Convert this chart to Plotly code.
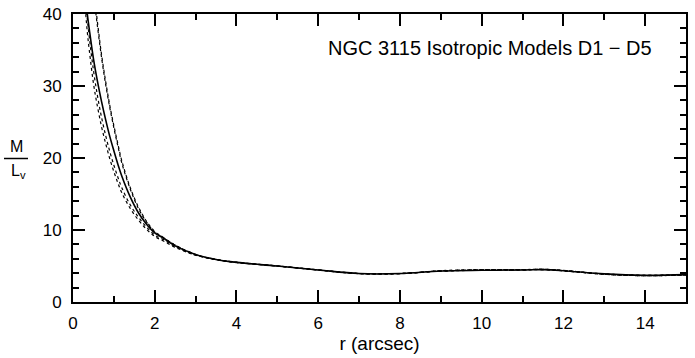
import plotly.graph_objects as go

r = [0.3, 0.35, 0.4, 0.5, 0.6, 0.7, 0.8, 0.9, 1.0, 1.1, 1.2, 1.4, 1.6, 1.8, 2.0, 2.2, 2.5,
     3.0, 3.5, 4.0, 5.0, 6.0, 7.0, 8.0, 9.0, 10.0, 11.0, 11.5, 12.0, 13.0, 14.0, 15.0]

model_solid = [42.5, 40.0, 37.8, 33.8, 30.6, 27.8, 25.3, 23.0, 21.0, 19.1, 17.4, 14.6, 12.4, 10.8, 9.6, 8.9, 7.8,
               6.6, 5.9, 5.5, 5.0, 4.45, 3.95, 3.95, 4.3, 4.4, 4.45, 4.5, 4.35, 3.9, 3.7, 3.8]
model_dash_a = [58.0, 53.5, 49.5, 43.8, 38.8, 34.3, 30.6, 27.3, 24.5, 21.9, 19.5, 15.9, 13.2, 11.2, 9.8, 9.0, 7.9,
                6.6, 5.9, 5.5, 5.0, 4.45, 3.95, 3.95, 4.35, 4.5, 4.5, 4.55, 4.4, 3.85, 3.65, 3.75]
model_dash_b = [56.0, 52.0, 48.5, 43.0, 38.2, 33.9, 30.2, 27.0, 24.2, 21.6, 19.2, 15.7, 13.0, 11.1, 9.7, 9.0, 7.9,
                6.6, 5.9, 5.5, 5.0, 4.45, 3.95, 3.95, 4.3, 4.45, 4.5, 4.5, 4.35, 3.85, 3.7, 3.75]
model_dash_c = [40.8, 37.5, 34.9, 30.4, 27.1, 24.3, 22.0, 19.9, 18.1, 16.5, 15.1, 13.0, 11.4, 10.1, 9.1, 8.5, 7.6,
                6.5, 5.9, 5.5, 5.0, 4.45, 3.95, 3.95, 4.3, 4.45, 4.45, 4.55, 4.35, 3.9, 3.65, 3.8]
model_dash_d = [42.0, 39.3, 36.7, 32.2, 28.6, 25.6, 23.1, 20.9, 19.0, 17.3, 15.8, 13.5, 11.8, 10.4, 9.3, 8.7, 7.7,
                6.5, 5.9, 5.5, 5.0, 4.45, 3.95, 3.95, 4.3, 4.4, 4.45, 4.5, 4.35, 3.9, 3.7, 3.8]

x_ticks = [0, 2, 4, 6, 8, 10, 12, 14]
y_ticks = [0, 10, 20, 30, 40]

FONT = "Liberation Sans, Arial, Helvetica, sans-serif"

fig = go.Figure()
for vals in [model_dash_a, model_dash_b, model_dash_c, model_dash_d]:
    fig.add_trace(go.Scatter(x=r, y=vals, mode="lines", line_shape="spline",
                             line=dict(color="black", width=1.2, dash="3px,3px"),
                             showlegend=False, hoverinfo="skip"))
fig.add_trace(go.Scatter(x=r, y=model_solid, mode="lines", line_shape="spline",
                         line=dict(color="black", width=1.6), showlegend=False, hoverinfo="skip"))

axis_common = dict(
    showgrid=False, zeroline=False, showline=True, linecolor="black", linewidth=2,
    mirror="allticks", ticks="inside", ticklen=12, tickwidth=2, tickcolor="black",
    tickfont=dict(family=FONT, size=17, color="black"), automargin=False,
)
fig.update_xaxes(range=[0, 15], tickvals=x_ticks, ticktext=[str(v) for v in x_ticks],
                 minor=dict(ticks="inside", ticklen=6, tickwidth=2, dtick=1, tick0=0, tickcolor="black"),
                 ticklabelstandoff=5,
                 title=dict(text="r (arcsec)", font=dict(family=FONT, size=19, color="black"), standoff=2),
                 **axis_common)
fig.update_yaxes(range=[0, 40], tickvals=y_ticks, ticktext=[str(v) for v in y_ticks],
                 minor=dict(ticks="inside", ticklen=6, tickwidth=2, dtick=2, tick0=0, tickcolor="black"),
                 ticklabelstandoff=6,
                 **axis_common)

W, H = 695, 358
L, R_, T, B = 73, 9, 14, 56
pw, ph = W - L - R_, H - T - B

def px(xp):
    return (xp - L) / pw

def py(yp):
    return (H - B - yp) / ph

fig.add_annotation(text="NGC 3115 Isotropic Models D1 \u2212 D5", xref="paper", yref="paper",
                   x=px(490), y=py(48), xanchor="center", yanchor="middle", showarrow=False,
                   font=dict(family=FONT, size=20, color="black"))
fig.add_annotation(text="M", xref="paper", yref="paper", x=px(17), y=py(157),
                   xanchor="center", yanchor="bottom", showarrow=False,
                   font=dict(family=FONT, size=16, color="black"))
fig.add_annotation(text="L<sub>v</sub>", xref="paper", yref="paper", x=px(18), y=py(160),
                   xanchor="center", yanchor="top", showarrow=False,
                   font=dict(family=FONT, size=16, color="black"))
fig.add_shape(type="line", xref="paper", yref="paper", x0=px(4), x1=px(28), y0=py(158.5), y1=py(158.5),
              line=dict(color="black", width=1.5))

fig.update_layout(width=W, height=H, margin=dict(l=L, r=R_, t=T, b=B),
                  paper_bgcolor="white", plot_bgcolor="white")

fig.write_html("out.html", config={"displayModeBar": False},
               post_script="document.body.style.margin='0';document.body.style.padding='0';"
                           "document.body.style.overflow='hidden';")
